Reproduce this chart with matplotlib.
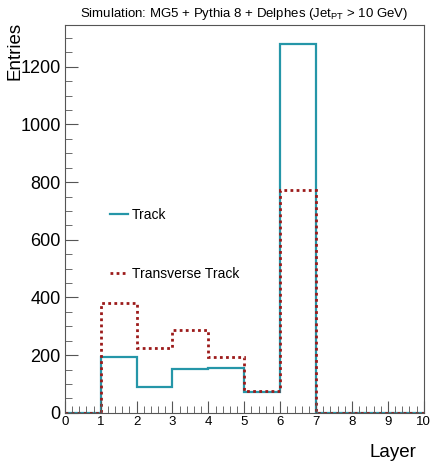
import matplotlib
matplotlib.use('Agg')

import numpy as np
import matplotlib.pyplot as plt
from matplotlib.ticker import MultipleLocator

plt.rcParams['font.family'] = ['Liberation Sans', 'DejaVu Sans']

edges = np.arange(0, 11, 1)
track = [0, 195, 88, 152, 156, 72, 1280, 0, 0, 0]
transverse = [0, 380, 226, 288, 192, 77, 773, 0, 0, 0]

fig = plt.figure(figsize=(4.32, 4.67), dpi=100)
ax = fig.add_axes([0.150, 0.116, 0.831, 0.830])

ax.stairs(track, edges, color='#2596a8', linewidth=1.6, label='Track')
ax.stairs(transverse, edges, color='#9c1a1a', linewidth=2.0,
          linestyle=(0, (1, 1.2)), label='Transverse Track')

ax.set_xlim(0, 10)
ax.set_ylim(0, 1.05 * max(track))
ax.xaxis.set_major_locator(MultipleLocator(1))
ax.xaxis.set_minor_locator(MultipleLocator(0.2))
ax.yaxis.set_major_locator(MultipleLocator(200))
ax.yaxis.set_minor_locator(MultipleLocator(50))
ax.tick_params(which='both', direction='in', top=False, right=False, color='#555555')
ax.tick_params(axis='y', which='major', length=9, labelsize=13, pad=3)
ax.tick_params(axis='y', which='minor', length=5)
ax.tick_params(axis='x', which='major', length=9, labelsize=9.5, pad=2)
ax.tick_params(axis='x', which='minor', length=5)
for s in ax.spines.values():
    s.set_color('#555555')

ax.set_xlabel('Layer', fontsize=13.5, loc='right')
ax.xaxis.set_label_coords(0.98, -0.08)
ax.set_ylabel('Entries', fontsize=13.5, loc='top')
ax.yaxis.set_label_coords(-0.114, 1.008)
ax.set_title(r'Simulation: MG5 + Pythia 8 + Delphes (Jet$_{\mathregular{PT}}$ > 10 GeV)',
             fontsize=9.5, pad=6)

ax.legend(loc='upper left', bbox_to_anchor=(0.09, 0.56), frameon=False,
          handlelength=1.3, handletextpad=0.3, labelspacing=3.2, fontsize=10)

fig.savefig('out.png', dpi=100)
